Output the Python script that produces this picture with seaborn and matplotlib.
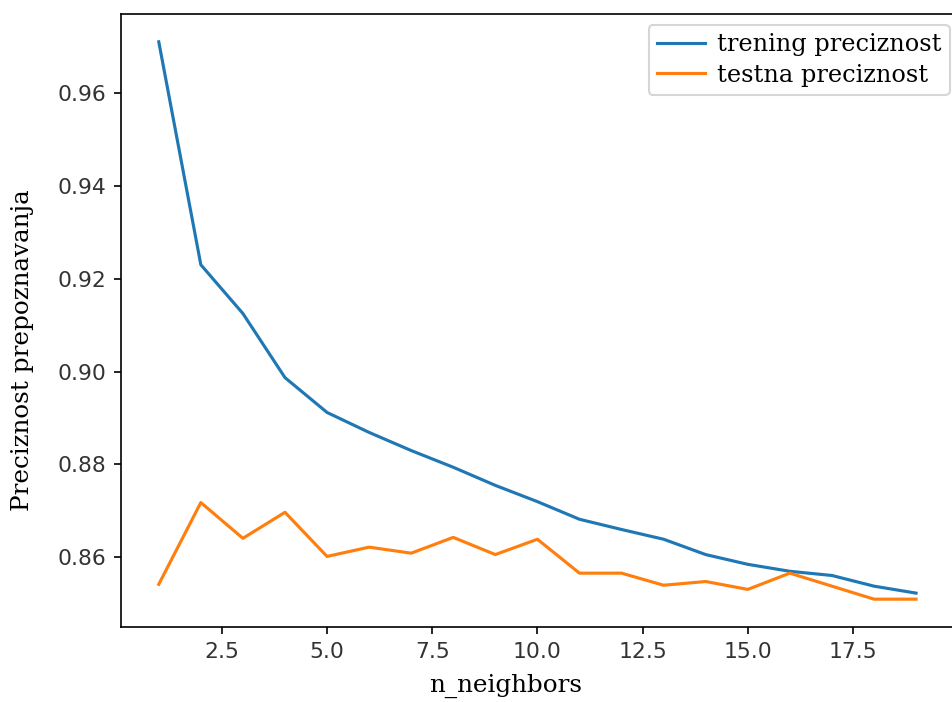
import numpy as np
import pandas as pd
import seaborn as sns
import matplotlib.pyplot as plt

n_neighbors = list(range(1, 20))
trening = [0.9710, 0.9230, 0.9125, 0.8987, 0.8912, 0.8869, 0.8830, 0.8794, 0.8755,
           0.8720, 0.8682, 0.8660, 0.8639, 0.8606, 0.8585, 0.8570, 0.8561, 0.8538, 0.8523]
testna = [0.8542, 0.8718, 0.8641, 0.8697, 0.8602, 0.8622, 0.8609, 0.8643, 0.8606,
          0.8639, 0.8566, 0.8566, 0.8540, 0.8548, 0.8531, 0.8566, 0.8538, 0.8510, 0.8510]
labels = ['trening preciznost', 'testna preciznost']

df = pd.DataFrame({
    'n_neighbors': n_neighbors * 2,
    'preciznost': trening + testna,
    'serija': [labels[0]] * len(trening) + [labels[1]] * len(testna),
})

serif = 'DejaVu Serif'

fig = plt.figure(figsize=(6.3467, 4.68), dpi=150)
ax = fig.add_axes([0.127, 0.1068, 0.875, 0.8733])
sns.lineplot(data=df, x='n_neighbors', y='preciznost', hue='serija',
             palette=['#1f77b4', '#ff7f0e'], linewidth=1.5, ax=ax)

ax.tick_params(labelsize=10.5, labelcolor='#333333')
ax.set_xlabel('n_neighbors', family=serif, fontsize=11.8)
ax.set_ylabel('Preciznost prepoznavanja', family=serif, fontsize=11.8)
ax.xaxis.set_label_coords(0.462, -0.076)
ax.yaxis.set_label_coords(-0.104, 0.452)
ax.legend(loc='upper right', bbox_to_anchor=(0.995, 0.982), borderaxespad=0,
          prop={'family': serif, 'size': 11.5},
          handlelength=2.0, handletextpad=0.5, labelspacing=0.3,
          borderpad=0.35)
fig.savefig('out.png', dpi=150)
